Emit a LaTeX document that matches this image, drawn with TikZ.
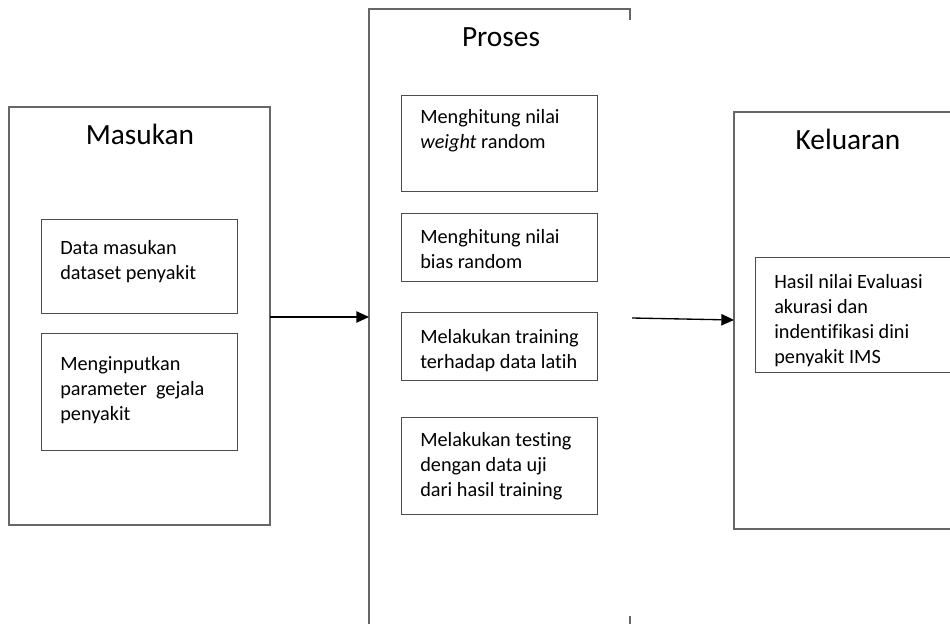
\documentclass[tikz,border=0pt]{standalone}
\usepackage{fontspec}
\setmainfont{Carlito}[Ligatures=NoCommon]
\usetikzlibrary{arrows.meta}
\tikzset{
  outerline/.style={draw=black!60, line width=0.8pt},
  innerbox/.style={draw=black!70, line width=0.75pt, rectangle, inner sep=0pt},
  boxtext/.style={anchor=north west, inner sep=0pt, align=left, font=\fontsize{15.2}{18.9}\selectfont},
  titletext/.style={anchor=base, inner sep=0pt, font=\fontsize{22}{25}\selectfont},
  flow/.style={draw=black, line width=1pt, -{Triangle[length=9.5pt,width=8.5pt]}}
}
\begin{document}
\begin{tikzpicture}[x=0.75pt,y=-0.75pt]
\useasboundingbox (0,0) rectangle (950,624);
% Masukan
\draw[outerline] (9,107) rectangle (270,525);
\node[titletext] (tmas) at (140,145) {Masukan};
\node[innerbox, minimum width=196*0.75pt, minimum height=94*0.75pt, anchor=north west] (m1) at (41,219) {};
\node[boxtext] (m1t) at (60,240) {Data masukan\\dataset penyakit};
\node[innerbox, minimum width=196*0.75pt, minimum height=117*0.75pt, anchor=north west] (m2) at (41,333) {};
\node[boxtext] (m2t) at (60,356) {Menginputkan\\parameter\ \ gejala\\penyakit};
% Proses
\draw[outerline] (630,20) -- (630,9) -- (369,9) -- (369,626);
\draw[outerline] (630,616) -- (630,626);
\node[titletext] (tpro) at (501,47) {Proses};
\node[innerbox, minimum width=196*0.75pt, minimum height=96*0.75pt, anchor=north west] (p1) at (401,95) {};
\node[boxtext] (p1t) at (420,109) {Menghitung nilai\\\textit{weight} random};
\node[innerbox, minimum width=196*0.75pt, minimum height=68*0.75pt, anchor=north west] (p2) at (401,213) {};
\node[boxtext] (p2t) at (420,229) {Menghitung nilai\\bias random};
\node[innerbox, minimum width=196*0.75pt, minimum height=68*0.75pt, anchor=north west] (p3) at (401,312) {};
\node[boxtext] (p3t) at (420,329) {Melakukan training\\terhadap data latih};
\node[innerbox, minimum width=196*0.75pt, minimum height=97*0.75pt, anchor=north west] (p4) at (401,417) {};
\node[boxtext] (p4t) at (420,432) {Melakukan testing\\dengan data uji\\dari hasil training};
% Keluaran
\draw[outerline] (952,112) -- (734,112) -- (734,529) -- (952,529);
\node[titletext] (tkel) at (848,150) {Keluaran};
\draw[draw=black!70, line width=0.75pt] (952,258) -- (755,258) -- (755,372) -- (952,372);
\node[boxtext] (k1t) at (774,274) {Hasil nilai Evaluasi\\akurasi dan\\indentifikasi dini\\penyakit IMS};
% arrows
\coordinate (a1s) at (270,317);
\coordinate (a1e) at (369,317);
\coordinate (a2s) at (632,318);
\coordinate (a2e) at (734,320);
\draw[flow] (a1s) -- (a1e);
\draw[flow] (a2s) -- (a2e);
\end{tikzpicture}
\end{document}
